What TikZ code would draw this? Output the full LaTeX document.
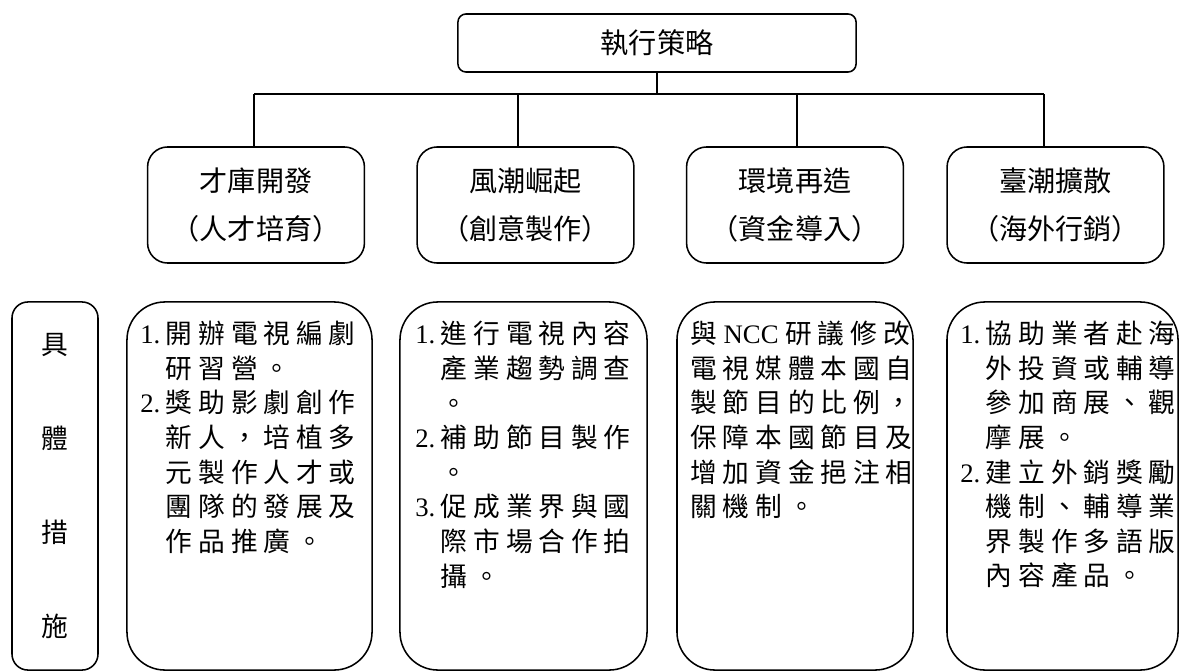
\documentclass[tikz,border=0pt]{standalone}
\usepackage{fontspec}
\setmainfont{Liberation Serif}
\newfontfamily\cjk[LetterSpace=22]{Noto Sans CJK TC}
\newfontfamily\cjkhead{Noto Sans CJK TC}
\usetikzlibrary{positioning}
\tikzset{conn/.style={line width=1.1pt},
headbox/.style={draw, line width=1.1pt, rounded corners=0.2cm, minimum width=9.95cm, minimum height=1.45cm, font=\cjkhead\fontsize{20}{34}\selectfont},
stratbox/.style={draw, line width=1.1pt, rounded corners=0.5cm, minimum width=5.42cm, minimum height=2.9cm, align=center, font=\cjkhead\fontsize{20}{34}\selectfont},
measbox/.style={draw, line width=1.1pt, rounded corners=0.95cm, minimum height=9.2cm},
meastext/.style={anchor=north west, inner sep=0pt, align=left, font=\cjk\fontsize{19}{24.6}\selectfont}}
\newcommand{\numlab}[1]{\makebox[0.64cm][l]{\rmfamily #1}}
\newcommand{\numskip}{\hspace*{0.64cm}}

\begin{document}
\begin{tikzpicture}[x=0.025cm, y=-0.025cm]
\useasboundingbox (0,0) rectangle (1181,670);
\node[headbox] (plan) at (657,43) {執行策略};
\node[stratbox] (talent) at (256,205) {才庫開發\\（人才培育）};
\node[stratbox] (wave) at (525.5,205) {風潮崛起\\（創意製作）};
\node[stratbox] (env) at (795,205) {環境再造\\（資金導入）};
\node[stratbox] (spread) at (1055.5,205) {臺潮擴散\\（海外行銷）};
% connectors
\coordinate (j1) at (254,94);
\coordinate (j2) at (518,94);
\coordinate (j3) at (797,94);
\coordinate (j4) at (1044,94);
\draw[conn] (plan.south) -- (plan.south |- j1);
\draw[conn] (j1) -- (j4);
\foreach \j/\n in {j1/talent, j2/wave, j3/env, j4/spread}
  \draw[conn] (\j) -- (\j |- \n.north);
% measures
\node[measbox, minimum width=2.15cm, rounded corners=0.4cm, align=center, font=\cjkhead\fontsize{19}{67}\selectfont] (meas) at (55,486) {具\\體\\措\\施};
\node[measbox, minimum width=6.125cm] (act1) at (249.5,486) {};
\node[measbox, minimum width=6.175cm] (act2) at (523.5,486) {};
\node[measbox, minimum width=5.9cm] (act3) at (795,486) {};
\node[measbox, minimum width=5.775cm] (act4) at (1062.5,486) {};
\node[meastext] (act1txt) at (140,321) {\numlab{1.}開辦電視編劇\\
\numskip 研習營。\\
\numlab{2.}獎助影劇創作\\
\numskip 新人，培植多\\
\numskip 元製作人才或\\
\numskip 團隊的發展及\\
\numskip 作品推廣。};
\node[meastext] (act2txt) at (415,321) {\numlab{1.}進行電視內容\\
\numskip 產業趨勢調查\\
\numskip 。\\
\numlab{2.}補助節目製作\\
\numskip 。\\
\numlab{3.}促成業界與國\\
\numskip 際市場合作拍\\
\numskip 攝。};
\node[meastext] (act3txt) at (690,321) {與{\rmfamily\ NCC\ }研議修改\\
電視媒體本國自\\
製節目的比例，\\
保障本國節目及\\
增加資金挹注相\\
關機制。};
\node[meastext] (act4txt) at (960,321) {\numlab{1.}協助業者赴海\\
\numskip 外投資或輔導\\
\numskip 參加商展、觀\\
\numskip 摩展。\\
\numlab{2.}建立外銷獎勵\\
\numskip 機制、輔導業\\
\numskip 界製作多語版\\
\numskip 內容產品。};
\end{tikzpicture}
\end{document}
